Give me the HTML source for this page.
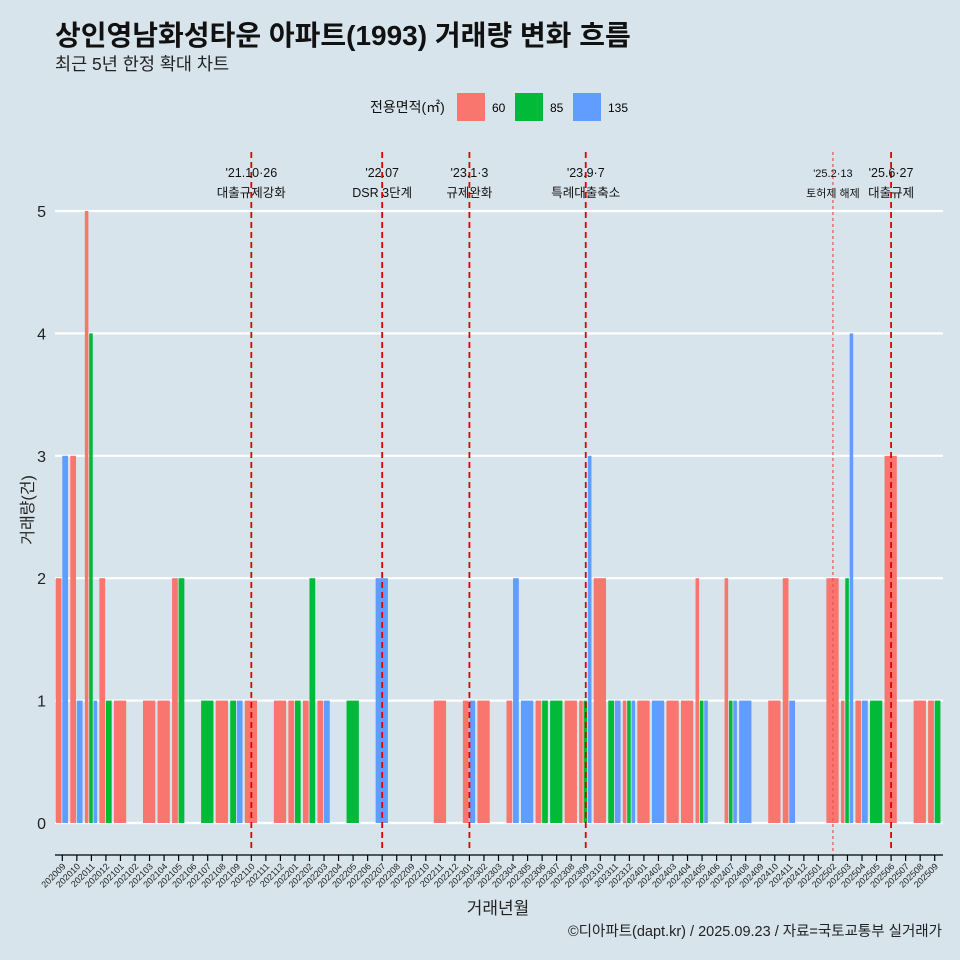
<!DOCTYPE html>
<html><head><meta charset="utf-8"><style>
body{margin:0;background:#d7e4eb;}
svg{display:block;font-family:"Liberation Sans","Noto Sans CJK KR",sans-serif;}
</style></head><body>
<svg id="c" width="960" height="960" viewBox="0 0 960 960">
<rect width="960" height="960" fill="#d7e4eb"/>
<text x="55" y="45" font-size="28" font-weight="bold" fill="#111">상인영남화성타운 아파트(1993) 거래량 변화 흐름</text>
<text x="55" y="70" font-size="17.5" fill="#222">최근 5년 한정 확대 차트</text>
<g>
<text x="370" y="112" font-size="14" fill="#111">전용면적(㎡)</text>
<rect x="457" y="93" width="28" height="28" fill="#f8766d"/>
<text x="492" y="112" font-size="12">60</text>
<rect x="515" y="93" width="28" height="28" fill="#00ba38"/>
<text x="550" y="112" font-size="12">85</text>
<rect x="573" y="93" width="28" height="28" fill="#619cff"/>
<text x="608" y="112" font-size="12">135</text>
</g>
<g id="grid"></g><g id="bars"></g><g id="events"></g><g id="axes"></g>
<text x="498" y="914" font-size="17" text-anchor="middle" fill="#222">거래년월</text>
<text transform="translate(33,510) rotate(-90)" font-size="16" text-anchor="middle" fill="#222">거래량(건)</text>
<text x="942" y="936" font-size="14.5" text-anchor="end" fill="#222">©디아파트(dapt.kr) / 2025.09.23 / 자료=국토교통부 실거래가</text>
</svg>
<script>
const months=["202009","202010","202011","202012","202101","202102","202103","202104","202105","202106","202107","202108","202109","202110","202111","202112","202201","202202","202203","202204","202205","202206","202207","202208","202209","202210","202211","202212","202301","202302","202303","202304","202305","202306","202307","202308","202309","202310","202311","202312","202401","202402","202403","202404","202405","202406","202407","202408","202409","202410","202411","202412","202501","202502","202503","202504","202505","202506","202507","202508","202509"];
const v60=[2,3,5,2,1,0,1,1,2,0,0,1,0,1,0,1,1,1,1,0,0,0,0,0,0,0,1,0,1,1,0,1,0,1,0,1,1,2,0,1,1,0,1,1,2,0,2,0,0,1,2,0,0,2,1,1,0,3,0,1,1];
const v85=[0,0,4,1,0,0,0,0,2,0,1,0,1,0,0,0,1,2,0,0,1,0,0,0,0,0,0,0,0,0,0,0,0,1,1,0,1,0,1,1,0,0,0,0,1,0,1,0,0,0,0,0,0,0,2,0,1,0,0,0,1];
const v135=[3,1,1,0,0,0,0,0,0,0,0,0,1,0,0,0,0,0,1,0,0,0,2,0,0,0,0,0,1,0,0,2,1,0,0,0,3,0,1,1,0,1,0,0,1,0,1,1,0,0,1,0,0,0,4,1,0,0,0,0,0];
const yTicks=[0,1,2,3,4,5];
const evMonths=["202110","202207","202301","202309","202502","202506"];
const evLine1=["'21.10·26","'22.07","'23.1·3","'23.9·7","'25.2·13","'25.6·27"];
const evLine2=["대출규제강화","DSR 3단계","규제완화","특례대출축소","토허제 해제","대출규제"];
const NS="http://www.w3.org/2000/svg";
const X0=62.3,STEP=14.54,Y0=823,YU=122.4;
const xs=i=>X0+STEP*i, ys=v=>Y0-v*YU;
function mk(p,t,a){const e=document.createElementNS(NS,t);for(const k in a)e.setAttribute(k,a[k]);p.appendChild(e);return e;}
const G=document.getElementById('grid'),B=document.getElementById('bars'),E=document.getElementById('events'),A=document.getElementById('axes');
yTicks.forEach(t=>{
 const l=mk(G,'line',{x1:55,x2:943,y1:ys(t),y2:ys(t),stroke:'#fff','stroke-width':2.2});
 
 
 const tx=mk(A,'text',{x:46,y:ys(t)+6,'font-size':16,'text-anchor':'end',fill:'#222'});tx.textContent=t;
 
 
});
const cols=["#f8766d","#00ba38","#619cff"],series=[v60,v85,v135],names=["60","85","135"];
months.forEach((m,i)=>{
 const items=[];series.forEach((s,k)=>{if(s[i]>0)items.push(k);});
 const W=STEP*0.9,w=W/(items.length||1);
 items.forEach((k,j)=>{
  const v=series[k][i];
  const r=mk(B,'rect',{x:xs(i)-W/2+j*w,y:ys(v),width:Math.max(w-0.8,0.5),height:v*YU,fill:cols[k]});
  
  
 });
 const tk=mk(A,'line',{x1:xs(i),x2:xs(i),y1:855,y2:861,stroke:'#000','stroke-width':1.2});
 
 
 const tl=mk(A,'text',{x:0,y:0,'font-size':9,'text-anchor':'end',fill:'#222',transform:`translate(${xs(i)+4},${867}) rotate(-45)`});tl.textContent=m;
 
 
});
const ax=mk(A,'line',{x1:55,x2:943,y1:855,y2:855,stroke:'#000','stroke-width':1.2});


evMonths.forEach((m,k)=>{
 const x=xs(months.indexOf(m)),thin=m==="202502";
 const l=mk(E,'line',{x1:x,x2:x,y1:152,y2:852,stroke:thin?'#f05050':'#e00000','stroke-width':thin?1.2:1.8,'stroke-dasharray':thin?'3,3':'6,4'});
 
 
 const fs=thin?11:12.5;
 const t1=mk(E,'text',{x:x,y:177,'font-size':fs,'text-anchor':'middle',fill:'#111'});t1.textContent=evLine1[k];
 
 
 const t2=mk(E,'text',{x:x,y:197,'font-size':fs,'text-anchor':'middle',fill:'#111'});t2.textContent=evLine2[k];
 
 
});
</script>
</body></html>
